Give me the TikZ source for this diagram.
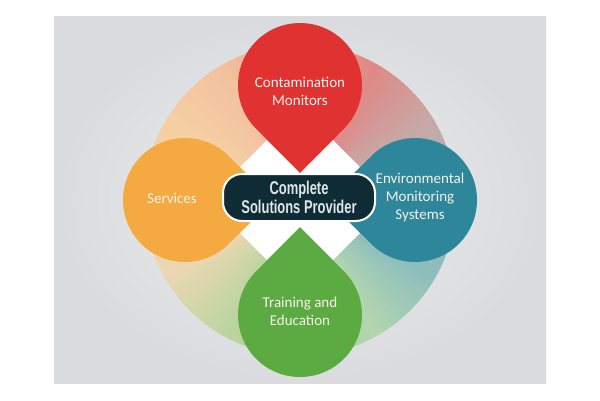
\documentclass[tikz,border=0pt]{standalone}
\usepackage{fontspec}
\setmainfont{Carlito}
\newfontfamily\condfont[FakeStretch=0.70]{Liberation Sans}
\usetikzlibrary{calc}
\definecolor{bgmid}{HTML}{EEEFF0}
\definecolor{bgedge}{HTML}{D9DBDE}
\definecolor{redc}{HTML}{E03331}
\definecolor{bluec}{HTML}{2E869A}
\definecolor{greenc}{HTML}{5BAB42}
\definecolor{orangec}{HTML}{F5AA41}
\definecolor{corec}{HTML}{0F2B36}
\definecolor{labc}{HTML}{F8F1EC}
\definecolor{corelab}{HTML}{DDE7E7}
\definecolor{kA}{HTML}{9EB6BA}
\definecolor{kB}{HTML}{C6A9A7}
\definecolor{kC}{HTML}{DF8A87}
\definecolor{kD}{HTML}{E8948A}
\definecolor{kE}{HTML}{F2C2A0}
\definecolor{kF}{HTML}{F5CFA3}
\definecolor{kG}{HTML}{F5D3A6}
\definecolor{kH}{HTML}{EBD7B2}
\definecolor{kI}{HTML}{BDD5A0}
\definecolor{kJ}{HTML}{A9CF95}
\definecolor{kK}{HTML}{B3D6B0}
\definecolor{kL}{HTML}{8DBDBD}
\newcommand{\ringseg}[4]{%
  \foreach \k in {0,...,14}{%
    \pgfmathsetmacro{\sa}{#1+(#2-#1)*\k/15}%
    \pgfmathsetmacro{\sb}{#1+(#2-#1)*(\k+1)/15+0.6}%
    \pgfmathsetmacro{\pc}{100*(\k+0.5)/15}%
    \fill[#4!\pc!#3] (ctr) -- ++(-\sa:156) arc[start angle=-\sa, end angle=-\sb, radius=156] -- cycle;
  }}
\begin{document}
\begin{tikzpicture}[x=1pt,y=-1pt,
  droplabel/.style={text=labc, font=\fontsize{15}{18}\selectfont, align=center, inner sep=0pt},
  centerbox/.style={draw=white, line width=2pt, fill=corec, rounded corners=19pt,
    minimum width=152pt, minimum height=47pt, text=corelab, align=center, inner sep=0pt,
    font=\condfont\bfseries\fontsize{18.5}{19}\selectfont}]
\useasboundingbox (0,0) rectangle (600,400);
\fill[white] (0,0) rectangle (600,400);
\shade[inner color=bgmid, outer color=bgedge] (54,16) rectangle (546,383);
\coordinate (ctr) at (300,200);
% gradient ring
\ringseg{0}{30}{kA}{kB}
\ringseg{30}{60}{kB}{kC}
\ringseg{60}{90}{kC}{kD}
\ringseg{90}{120}{kD}{kE}
\ringseg{120}{150}{kE}{kF}
\ringseg{150}{180}{kF}{kG}
\ringseg{180}{210}{kG}{kH}
\ringseg{210}{240}{kH}{kI}
\ringseg{240}{270}{kI}{kJ}
\ringseg{270}{300}{kJ}{kK}
\ringseg{300}{330}{kK}{kL}
\ringseg{330}{360}{kL}{kA}
% white diamond
\fill[white] (300,107) -- (393,200) -- (300,293) -- (207,200) -- cycle;
% drops
\fill[redc] (300,85) ++(90:88) -- ([shift={(45:62)}]300,85) arc[start angle=45, delta angle=-270, radius=62] -- cycle;
\fill[bluec] (415,200) ++(180:88) -- ([shift={(135:62)}]415,200) arc[start angle=135, delta angle=-270, radius=62] -- cycle;
\fill[greenc] (300,315) ++(-90:88) -- ([shift={(-135:62)}]300,315) arc[start angle=-135, delta angle=-270, radius=62] -- cycle;
\fill[orangec] (185,200) ++(0:88) -- ([shift={(-45:62)}]185,200) arc[start angle=-45, delta angle=-270, radius=62] -- cycle;
% labels
\node[droplabel] (contam) at (300,91) {Contamination\\Monitors};
\node[droplabel] (envmon) at (420,197) {Environmental\\Monitoring\\Systems};
\node[droplabel] (train) at (300,311) {Training and\\Education};
\node[droplabel] (serv) at (172,198) {Services};
\node[centerbox] (core) at (299,197.5) {Complete\\Solutions Provider};
\end{tikzpicture}
\end{document}
